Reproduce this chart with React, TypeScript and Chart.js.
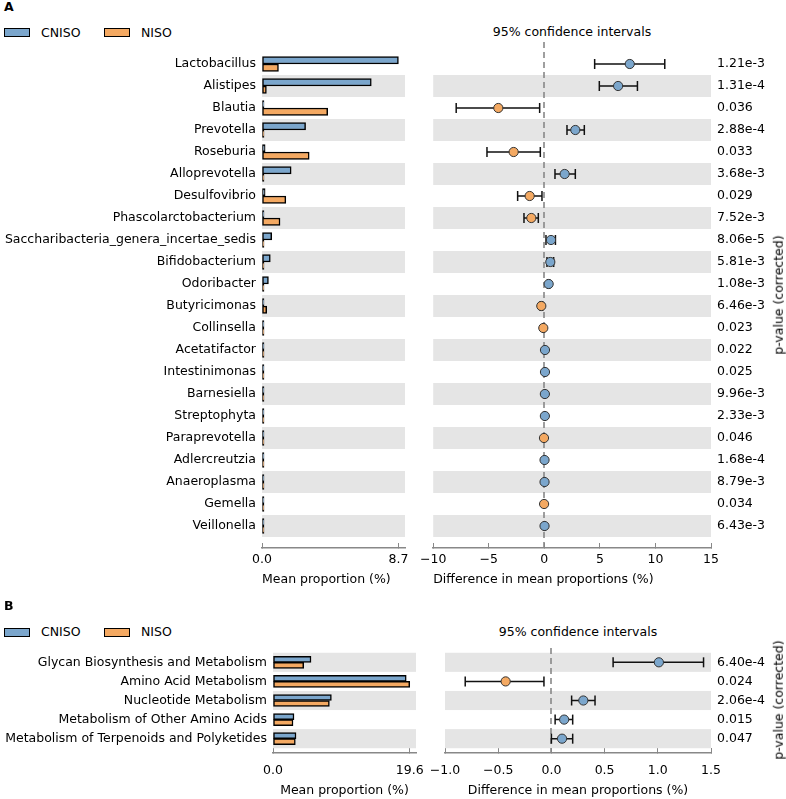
import React, { useEffect, useRef } from 'react';
import { Chart, registerables } from 'chart.js';
Chart.register(...registerables);

// ---------- Panel A data ----------
const taxaA = ['Lactobacillus', 'Alistipes', 'Blautia', 'Prevotella', 'Roseburia', 'Alloprevotella', 'Desulfovibrio', 'Phascolarctobacterium', 'Saccharibacteria_genera_incertae_sedis', 'Bifidobacterium', 'Odoribacter', 'Butyricimonas', 'Collinsella', 'Acetatifactor', 'Intestinimonas', 'Barnesiella', 'Streptophyta', 'Paraprevotella', 'Adlercreutzia', 'Anaeroplasma', 'Gemella', 'Veillonella'];
const cnisoA = [8.7, 6.97, 0.04, 2.78, 0.2, 1.86, 0.2, 0.03, 0.62, 0.53, 0.41, 0.06, 0.08, 0.1, 0.1, 0.08, 0.05, 0.03, 0.02, 0.02, 0.01, 0.02];
const nisoA = [1.05, 0.28, 4.19, 0.02, 3.01, 0.03, 1.52, 1.15, 0.02, 0.03, 0.03, 0.3, 0.1, 0.05, 0.05, 0.04, 0.03, 0.05, 0.01, 0.01, 0.02, 0.01];
const diffA = [7.69, 6.64, -4.14, 2.79, -2.76, 1.83, -1.32, -1.17, 0.6, 0.54, 0.39, -0.27, -0.09, 0.06, 0.06, 0.05, 0.05, -0.03, 0.02, 0.02, -0.02, 0.02];
const ciLowA = [4.53, 4.95, -7.93, 2.04, -5.16, 0.96, -2.4, -1.83, 0.15, 0.24, 0.3, -0.38, -0.14, 0.02, 0.02, 0.01, 0.02, -0.06, 0.0, 0.0, -0.05, 0.0];
const ciHighA = [10.84, 8.38, -0.42, 3.6, -0.36, 2.79, -0.21, -0.54, 1.0, 0.84, 0.48, -0.16, -0.04, 0.1, 0.1, 0.09, 0.08, 0.0, 0.04, 0.04, 0.01, 0.04];
const pValuesA = ['1.21e-3', '1.31e-4', '0.036', '2.88e-4', '0.033', '3.68e-3', '0.029', '7.52e-3', '8.06e-5', '5.81e-3', '1.08e-3', '6.46e-3', '0.023', '0.022', '0.025', '9.96e-3', '2.33e-3', '0.046', '1.68e-4', '8.79e-3', '0.034', '6.43e-3'];
const meanTicksA = [0, 8.7];
const meanMaxA = 9.12;
const diffTicksA = [-10, -5, 0, 5, 10, 15];

// ---------- Panel B data ----------
const pathwaysB = ['Glycan Biosynthesis and Metabolism', 'Amino Acid Metabolism', 'Nucleotide Metabolism', 'Metabolism of Other Amino Acids', 'Metabolism of Terpenoids and Polyketides'];
const cnisoB = [5.45, 19.1, 8.37, 3.01, 3.3];
const nisoB = [4.4, 19.6, 8.08, 2.87, 3.2];
const diffB = [1.01, -0.43, 0.3, 0.12, 0.1];
const ciLowB = [0.58, -0.81, 0.19, 0.035, 0.0];
const ciHighB = [1.43, -0.07, 0.41, 0.2, 0.2];
const pValuesB = ['6.40e-4', '0.024', '2.06e-4', '0.015', '0.047'];
const meanTicksB = [0, 19.6];
const meanMaxB = 20.5;
const diffTicksB = [-1.0, -0.5, 0.0, 0.5, 1.0, 1.5];

const groups = ['CNISO', 'NISO'];

// ---------- styles ----------
const BLUE = '#7BA6CC';
const ORANGE = '#F4A962';
const BAND = '#E5E5E5';
const SPINE = '#888888';
const FAMILY = "'DejaVu Sans', sans-serif";
const FS = 12.5;

Chart.defaults.font.family = FAMILY;
Chart.defaults.font.size = FS;
Chart.defaults.color = '#000';

const minus = (s: string) => s.replace('-', '\u2212');

const stampPlugin = {
  id: 'stamp',
  beforeDatasetsDraw(chart: any, _args: any, opts: any) {
    const { ctx, chartArea: a, scales } = chart;
    const y = scales.y;
    ctx.save();
    ctx.fillStyle = BAND;
    (opts.bands || []).forEach((i: number) => {
      const t = y.getPixelForValue(i - 0.5);
      const b = y.getPixelForValue(i + 0.5);
      ctx.fillRect(a.left, Math.min(t, b), a.right - a.left, Math.abs(b - t));
    });
    if (opts.zeroLine) {
      const x = Math.round(scales.x.getPixelForValue(0));
      ctx.strokeStyle = SPINE;
      ctx.lineWidth = 1.6;
      ctx.setLineDash([6, 4]);
      ctx.beginPath();
      ctx.moveTo(x, a.top);
      ctx.lineTo(x, a.bottom);
      ctx.stroke();
    }
    ctx.restore();
  },
};

// labelLH: tick-label line height, used to push the labels down without
// adding horizontal padding to the chart area
function xAxis(min: number, max: number, ticks: number[], fmt: (v: number) => string, title: string, align: string, height: number, labelLH: number, titlePad: number) {
  return {
    type: 'linear',
    position: 'bottom',
    min,
    max,
    afterBuildTicks: (s: any) => { s.ticks = ticks.map((v) => ({ value: v })); },
    afterFit: (s: any) => { s.height = height; },
    ticks: { callback: (v: number) => fmt(v), padding: 0, autoSkip: false, maxRotation: 0, color: '#000', font: { size: FS, family: FAMILY, lineHeight: `${labelLH}px` } },
    grid: { display: true, drawOnChartArea: false, drawTicks: true, tickLength: -5, color: SPINE, lineWidth: 1 },
    border: { display: true, color: SPINE, width: 1.5 },
    title: { display: true, text: title, align, color: '#000', font: { size: FS, family: FAMILY }, padding: { top: 0, bottom: titlePad } },
  };
}

function rowAxis(labels: string[], min: number, max: number, position: string, width: number, display = true) {
  return {
    type: 'linear',
    position,
    display,
    reverse: true,
    offset: false,
    min,
    max,
    afterBuildTicks: (s: any) => { s.ticks = labels.map((_, i) => ({ value: i })); },
    afterFit: (s: any) => { s.width = width; },
    ticks: { callback: (v: number) => labels[v], padding: 6, autoSkip: false, color: '#000', font: { size: FS, family: FAMILY } },
    grid: { display: false, drawTicks: false },
    border: { display: false },
  };
}

function barConfig(o: any) {
  return {
    type: 'bar',
    data: {
      datasets: [
        { label: groups[0], data: o.a.map((v: number, i: number) => ({ x: v, y: i })), backgroundColor: BLUE },
        { label: groups[1], data: o.b.map((v: number, i: number) => ({ x: v, y: i })), backgroundColor: ORANGE },
      ].map((d) => ({ ...d, borderColor: '#000', borderWidth: 1.5, borderSkipped: false, barThickness: o.thickness, minBarLength: 2 })),
    },
    options: {
      indexAxis: 'y',
      responsive: false,
      animation: false,
      events: [],
      layout: { padding: o.padding },
      scales: {
        x: xAxis(0, o.max, o.ticks, (v) => v.toFixed(1), 'Mean proportion (%)', o.align, o.xh, o.labelLH, o.titlePad),
        y: rowAxis(o.labels, o.ymin, o.ymax, 'left', o.yw),
      },
      plugins: { legend: { display: false }, tooltip: { enabled: false }, stamp: { bands: o.bands, zeroLine: false } },
    },
    plugins: [stampPlugin],
  };
}

function diffConfig(o: any) {
  const ci: any[] = [];
  o.lo.forEach((l: number, i: number) => {
    ci.push({ x: l, y: i }, { x: o.hi[i], y: i }, { x: null, y: i });
  });
  return {
    type: 'scatter',
    data: {
      datasets: [
        {
          label: 'diff',
          data: o.diff.map((v: number, i: number) => ({ x: v, y: i })),
          pointRadius: 4.6,
          pointBackgroundColor: o.diff.map((v: number) => (v >= 0 ? BLUE : ORANGE)),
          pointBorderColor: '#333',
          pointBorderWidth: 1,
        },
        {
          type: 'line',
          label: 'ci',
          data: ci,
          showLine: true,
          spanGaps: false,
          borderColor: '#111',
          borderWidth: 1.5,
          pointStyle: 'line',
          pointRotation: 90,
          pointRadius: 5,
          pointBorderColor: '#111',
          pointBorderWidth: 1.5,
        },
      ],
    },
    options: {
      responsive: false,
      animation: false,
      events: [],
      layout: { padding: o.padding },
      scales: {
        x: xAxis(o.min, o.max, o.ticks, o.fmt, 'Difference in mean proportions (%)', o.align, o.xh, o.labelLH, o.titlePad),
        y: rowAxis(o.pv, o.ymin, o.ymax, 'left', 0, false),
        y2: rowAxis(o.pv, o.ymin, o.ymax, 'right', o.pw),
      },
      plugins: { legend: { display: false }, tooltip: { enabled: false }, stamp: { bands: o.bands, zeroLine: true } },
    },
    plugins: [stampPlugin],
  };
}

function ChartBox({ left, top, width, height, config }: any) {
  const ref = useRef<HTMLCanvasElement>(null);
  useEffect(() => {
    const chart = new Chart(ref.current as HTMLCanvasElement, config);
    return () => chart.destroy();
  }, []);
  return (
    <div style={{ position: 'absolute', left, top, width, height }}>
      <canvas ref={ref} width={width} height={height} style={{ width, height, display: 'block' }} />
    </div>
  );
}

const txt: React.CSSProperties = { position: 'absolute', fontFamily: FAMILY, fontSize: FS, lineHeight: `${FS}px`, color: '#000', whiteSpace: 'nowrap' };

function Legend({ top }: { top: number }) {
  const box = (left: number, color: string): React.CSSProperties => ({ position: 'absolute', left, top: top + 1.5, width: 26, height: 9, background: color, border: '1.5px solid #000', boxSizing: 'border-box' });
  return (
    <>
      <div style={box(4, BLUE)} />
      <div style={{ ...txt, left: 41, top }}>{groups[0]}</div>
      <div style={box(104, ORANGE)} />
      <div style={{ ...txt, left: 141, top }}>{groups[1]}</div>
    </>
  );
}

function PLabel({ cy }: { cy: number }) {
  return (
    <div style={{ ...txt, left: 779, top: cy, transform: 'translate(-50%, -50%) rotate(-90deg)' }}>p-value (corrected)</div>
  );
}

export default function App() {
  const bandsA = taxaA.map((_, i) => i).filter((i) => i % 2 === 1);
  const bandsB = pathwaysB.map((_, i) => i).filter((i) => i % 2 === 0);

  const barA = barConfig({ labels: taxaA, a: cnisoA, b: nisoA, max: meanMaxA, ticks: meanTicksA, ymin: -1, ymax: 22, yw: 262, xh: 52, padding: { left: 0, right: 15, top: 42, bottom: 0 }, thickness: 7.5, bands: bandsA, align: 'start', labelLH: 34, titlePad: 13 });
  const difA = diffConfig({ diff: diffA, lo: ciLowA, hi: ciHighA, pv: pValuesA, min: -10, max: 15, ticks: diffTicksA, fmt: (v: number) => minus(String(v)), ymin: -1, ymax: 22, pw: 75, xh: 52, padding: { left: 13, right: 0, top: 42, bottom: 0 }, bands: bandsA, align: 'start', labelLH: 34, titlePad: 13 });
  const barB = barConfig({ labels: pathwaysB, a: cnisoB, b: nisoB, max: meanMaxB, ticks: meanTicksB, ymin: -0.75, ymax: 4.75, yw: 273, xh: 46, padding: { left: 0, right: 14, top: 48, bottom: 0 }, thickness: 6, bands: bandsB, align: 'center', labelLH: 45, titlePad: 0.5 });
  const difB = diffConfig({ diff: diffB, lo: ciLowB, hi: ciHighB, pv: pValuesB, min: -1, max: 1.5, ticks: diffTicksB, fmt: (v: number) => minus(v.toFixed(1)), ymin: -0.75, ymax: 4.75, pw: 75, xh: 46, padding: { left: 25, right: 0, top: 48, bottom: 0 }, bands: bandsB, align: 'center', labelLH: 45, titlePad: 0.5 });

  return (
    <div style={{ position: 'absolute', left: 0, top: 0, width: 786, height: 799, background: '#fff', overflow: 'hidden' }}>
      <div style={{ ...txt, left: 4, top: 1, fontWeight: 'bold' }}>A</div>
      <Legend top={26.5} />
      <div style={{ ...txt, left: 422, top: 25.5, width: 300, textAlign: 'center' }}>95% confidence intervals</div>
      <ChartBox left={420} top={0} width={366} height={600} config={difA} />
      <ChartBox left={0} top={0} width={420} height={600} config={barA} />
      <PLabel cy={295} />

      <div style={{ ...txt, left: 4, top: 600, fontWeight: 'bold' }}>B</div>
      <Legend top={626} />
      <div style={{ ...txt, left: 428, top: 626, width: 300, textAlign: 'center' }}>95% confidence intervals</div>
      <ChartBox left={420} top={600} width={366} height={199} config={difB} />
      <ChartBox left={0} top={600} width={430} height={199} config={barB} />
      <PLabel cy={700} />
    </div>
  );
}
